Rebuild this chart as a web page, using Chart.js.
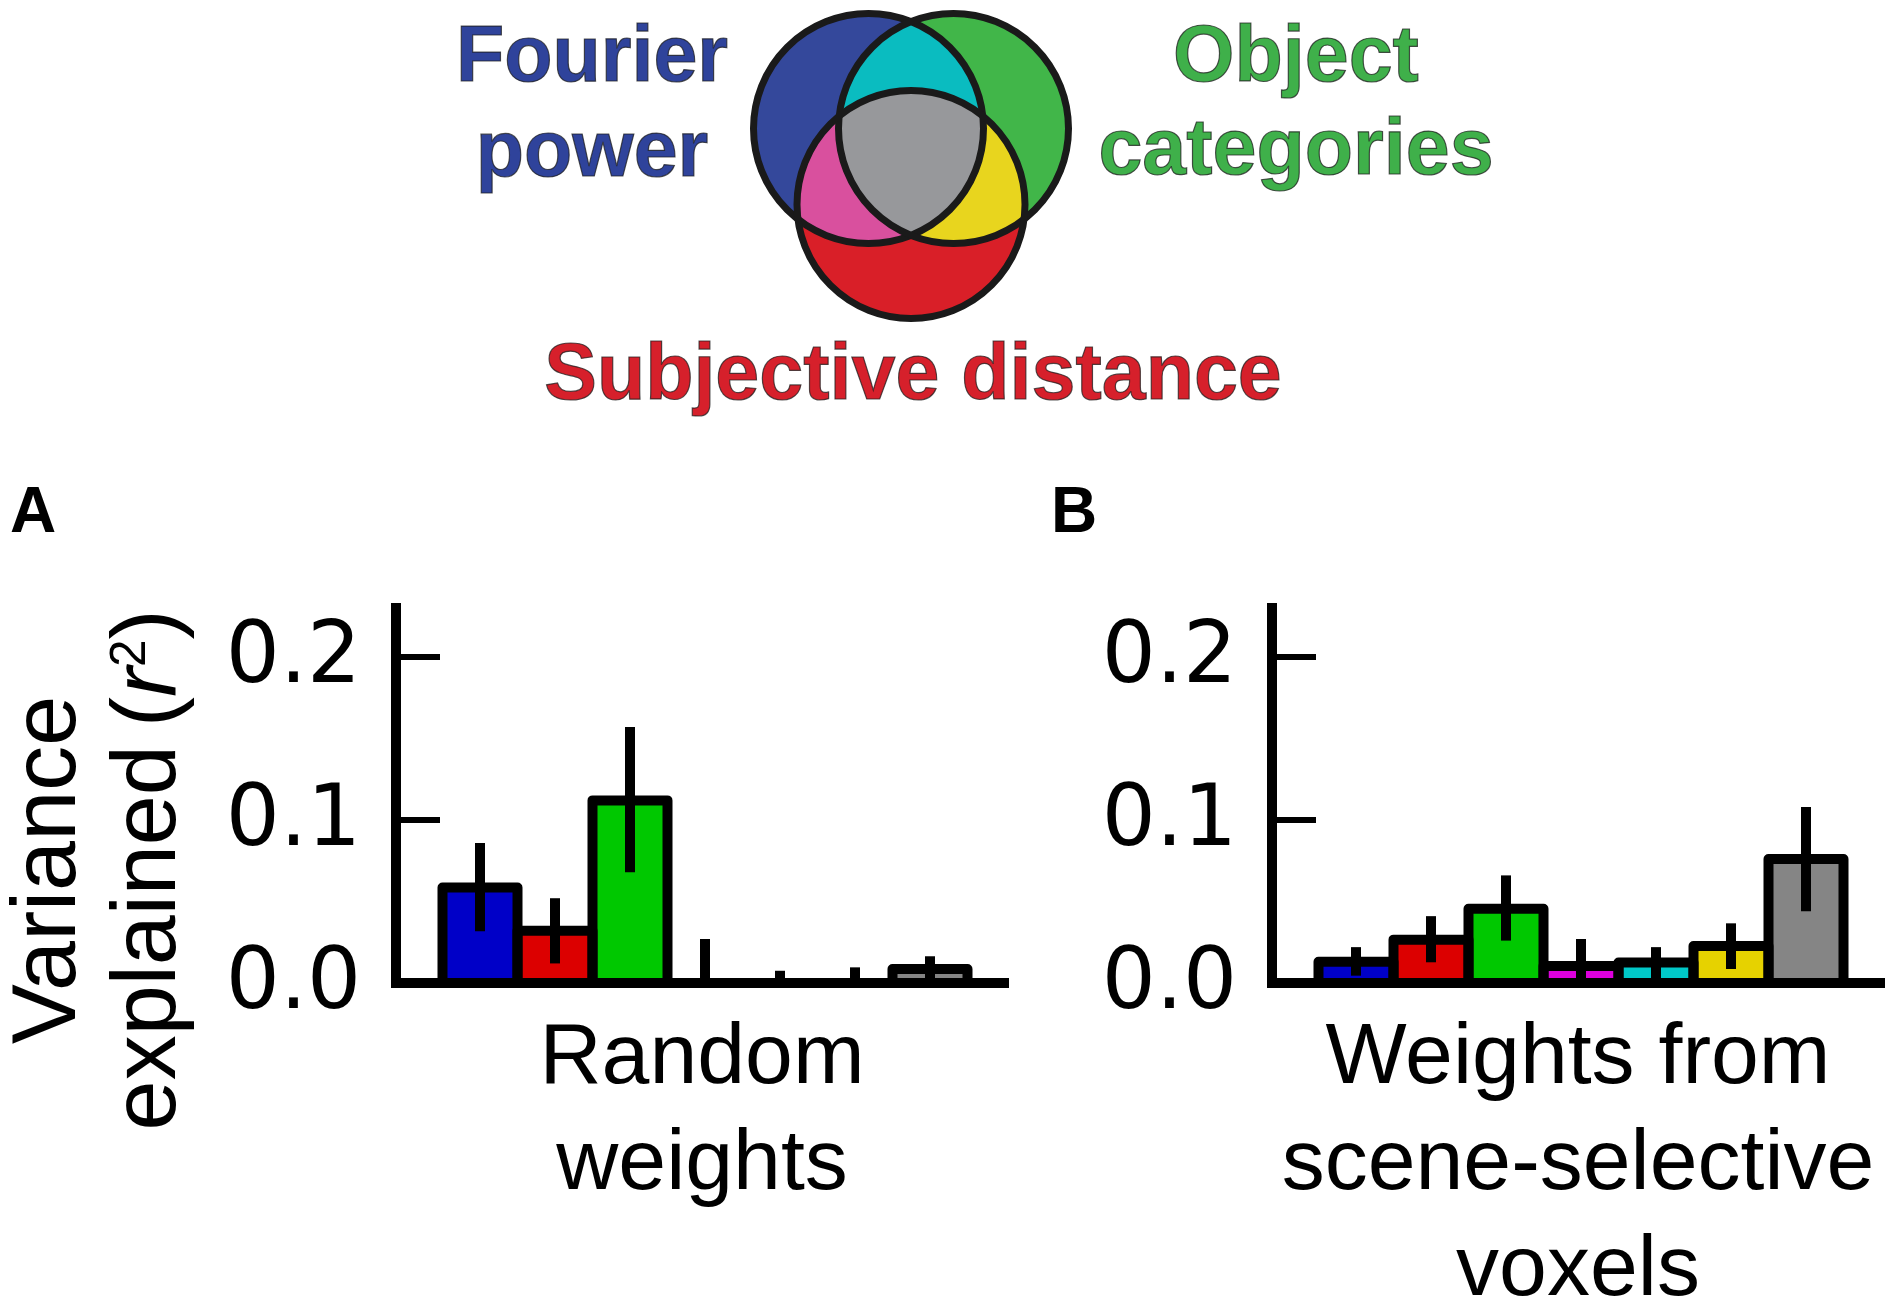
<!DOCTYPE html>
<html>
<head>
<meta charset="utf-8">
<script src="https://cdn.jsdelivr.net/npm/chart.js@4.4.1/dist/chart.umd.min.js"></script>
<style>
  html, body { margin: 0; padding: 0; background: #fff; }
  body { width: 1890px; height: 1309px; overflow: hidden; position: relative; }
  canvas { position: absolute; }
  .lbl { position: absolute; white-space: nowrap; line-height: 1; }
  .venn { font: bold 79px 'Liberation Sans', Arial, sans-serif; transform: translateX(-50%);
          -webkit-text-stroke: 1.2px rgba(30,30,30,0.75); }
  .panel { font: bold 64px 'Liberation Sans', Arial, sans-serif; color: #000; }
  #ytitle { position: absolute; width: 600px; height: 200px; text-align: center;
            font: 90px 'Liberation Sans', Arial, sans-serif; line-height: 100px; color: #000;
            transform: rotate(-90deg); white-space: nowrap; }
  #ytitle sup { font-size: 55%; vertical-align: 0.6em; line-height: 0; }
</style>
</head>
<body>
<canvas id="venn" width="400" height="340" style="left:700px;top:0"></canvas>
<div class="lbl venn" style="left:592px;top:8px;color:#2f439b">Fourier</div>
<div class="lbl venn" style="left:592px;top:103px;color:#2f439b">power</div>
<div class="lbl venn" style="left:1296px;top:8px;color:#3fb04a">Object</div>
<div class="lbl venn" style="left:1296px;top:101px;color:#3fb04a">categories</div>
<div class="lbl venn" style="left:913px;top:326px;color:#d6202b">Subjective distance</div>

<div class="lbl panel" style="left:10px;top:473px">A</div>
<div class="lbl panel" style="left:1051px;top:473px">B</div>

<div id="ytitle" style="left:-206px;top:770px">Variance<br>explained&#8201;(<i>r</i><sup>2</sup>)</div>

<canvas id="chartA" width="1050" height="800" style="left:0;top:540px"></canvas>
<canvas id="chartB" width="1050" height="800" style="left:876px;top:540px"></canvas>

<script>
// bars: model components (unique + shared variance)
const categories = ['Fourier power', 'Subjective distance', 'Object categories',
  'Fourier + Subjective', 'Fourier + Object', 'Object + Subjective', 'All three'];
const barColors = ['#0000c8', '#dc0000', '#00c800', '#dd00dd', '#00c8c8', '#e6d200', '#858585'];

// A: random weights
const randomValues = [0.0586, 0.032, 0.112, 0.0, 0.0, 0.0, 0.0086];
const randomLow    = [0.0317, 0.012, 0.068, 0.0, 0.0, 0.0, 0.003];
const randomHigh   = [0.0858, 0.052, 0.157, 0.027, 0.0075, 0.0096, 0.0164];

// B: weights from scene-selective voxels
const sceneValues = [0.013, 0.0266, 0.0455, 0.0104, 0.0125, 0.0227, 0.076];
const sceneLow    = [0.0045, 0.0127, 0.026, 0.0, 0.0, 0.0086, 0.044];
const sceneHigh   = [0.022, 0.041, 0.066, 0.027, 0.022, 0.0366, 0.108];

const yTickValues = [0, 0.1, 0.2];
const titleA = ['Random', 'weights'];
const titleB = ['Weights from', 'scene-selective', 'voxels'];

// venn diagram circles (canvas units)
const vennSets = ['Fourier power', 'Object categories', 'Subjective distance'];
const vennX = [168.5, 253.5, 211];
const vennY = [128.5, 128.5, 204.5];
const vennR = [115, 115, 114];

// outline every bar with a centred stroke, like matplotlib edges
const barOutline = {
  id: 'barOutline',
  afterDatasetsDraw(chart) {
    const ctx = chart.ctx;
    const meta = chart.getDatasetMeta(0);
    ctx.save();
    ctx.strokeStyle = '#000';
    ctx.lineWidth = 10;
    ctx.lineJoin = 'round';
    meta.data.forEach(bar => {
      const p = bar.getProps(['x', 'y', 'base', 'width'], true);
      ctx.strokeRect(p.x - p.width / 2, p.y, p.width, p.base - p.y);
    });
    ctx.restore();
  }
};

const errorBars = {
  id: 'errorBars',
  afterDatasetsDraw(chart, args, opts) {
    const ctx = chart.ctx;
    const y = chart.scales.y;
    const meta = chart.getDatasetMeta(0);
    ctx.save();
    ctx.strokeStyle = '#000';
    ctx.lineWidth = 10;
    meta.data.forEach((bar, i) => {
      const x = bar.getProps(['x'], true).x;
      ctx.beginPath();
      ctx.moveTo(x, y.getPixelForValue(opts.high[i]));
      ctx.lineTo(x, y.getPixelForValue(Math.max(opts.low[i], 0)));
      ctx.stroke();
    });
    ctx.restore();
  }
};

// inward tick marks on the y spine
const innerTicks = {
  id: 'innerTicks',
  afterDraw(chart) {
    const ctx = chart.ctx;
    const y = chart.scales.y;
    const left = chart.chartArea.left;
    ctx.save();
    ctx.strokeStyle = '#000';
    ctx.lineWidth = 6;
    y.ticks.forEach(t => {
      if (t.value === 0) return;
      const py = y.getPixelForValue(t.value);
      ctx.beginPath();
      ctx.moveTo(left, py);
      ctx.lineTo(left + 44, py);
      ctx.stroke();
    });
    ctx.restore();
  }
};

function makePanel(id, values, low, high, title, titlePad) {
  return new Chart(document.getElementById(id), {
    type: 'bar',
    data: {
      datasets: [{
        data: values.map((v, i) => ({ x: i, y: v })),
        backgroundColor: barColors,
        borderWidth: 0,
        barPercentage: 1,
        categoryPercentage: 1
      }]
    },
    options: {
      responsive: false,
      animation: false,
      layout: { padding: { top: 68, right: 42, left: 0, bottom: 0 } },
      plugins: {
        legend: { display: false },
        tooltip: { enabled: false },
        errorBars: { low, high }
      },
      scales: {
        x: {
          type: 'linear',
          offset: false,
          min: -1.12,
          max: 7.04,
          grid: { display: false, drawTicks: false },
          border: { display: true, color: '#000', width: 10 },
          ticks: { display: false },
          title: {
            display: true,
            text: title,
            color: '#000',
            font: { family: 'Liberation Sans', size: 86, lineHeight: 1.233 },
            padding: { top: 0, bottom: titlePad }
          },
          afterFit: s => { s.height = 357; s.paddingLeft = 0; s.paddingRight = 0; }
        },
        y: {
          min: 0,
          max: 0.23,
          grid: { display: false, drawTicks: false },
          border: { display: true, color: '#000', width: 10 },
          afterBuildTicks: s => { s.ticks = yTickValues.map(v => ({ value: v })); },
          ticks: {
            color: '#000',
            font: { family: 'DejaVu Sans', size: 85 },
            padding: 35,
            labelOffset: 3,
            callback: v => v.toFixed(1)
          },
          afterFit: s => { s.width = 396; s.paddingTop = 0; s.paddingBottom = 0; }
        }
      }
    },
    plugins: [barOutline, errorBars, innerTicks]
  });
}

makePanel('chartA', randomValues, randomLow, randomHigh, titleA, 122);
makePanel('chartB', sceneValues, sceneLow, sceneHigh, titleB, 16);

// venn diagram drawn through a scatter chart's scales
const vennFill = {
  id: 'vennFill',
  afterDatasetsDraw(chart) {
    const ctx = chart.ctx;
    const xs = chart.scales.x, ys = chart.scales.y;
    const c = vennX.map((vx, i) => ({
      x: xs.getPixelForValue(vx),
      y: ys.getPixelForValue(vennY[i]),
      r: xs.getPixelForValue(vennR[i]) - xs.getPixelForValue(0)
    }));
    const path = k => { ctx.beginPath(); ctx.arc(c[k].x, c[k].y, c[k].r, 0, Math.PI * 2); };
    const fill = (k, col) => { path(k); ctx.fillStyle = col; ctx.fill(); };
    const clip = k => { path(k); ctx.clip(); };
    ctx.save();
    fill(0, '#34489b');
    fill(1, '#41b649');
    fill(2, '#d91f28');
    ctx.save(); clip(0); fill(1, '#0abcc0'); ctx.restore();
    ctx.save(); clip(0); fill(2, '#d9509e'); ctx.restore();
    ctx.save(); clip(1); fill(2, '#e8d51e'); ctx.restore();
    ctx.save(); clip(0); clip(1); fill(2, '#97989b'); ctx.restore();
    ctx.strokeStyle = '#1a1a1a';
    ctx.lineWidth = 7;
    [0, 1, 2].forEach(k => { path(k); ctx.stroke(); });
    ctx.restore();
  }
};

new Chart(document.getElementById('venn'), {
  type: 'scatter',
  data: {
    labels: vennSets,
    datasets: [{ data: vennX.map((x, i) => ({ x, y: vennY[i] })), pointRadius: 0 }]
  },
  options: {
    responsive: false,
    animation: false,
    layout: { padding: 0 },
    plugins: { legend: { display: false }, tooltip: { enabled: false } },
    scales: {
      x: { type: 'linear', min: 0, max: 400, display: false },
      y: { type: 'linear', min: 0, max: 340, reverse: true, display: false }
    }
  },
  plugins: [vennFill]
});
</script>
</body>
</html>
